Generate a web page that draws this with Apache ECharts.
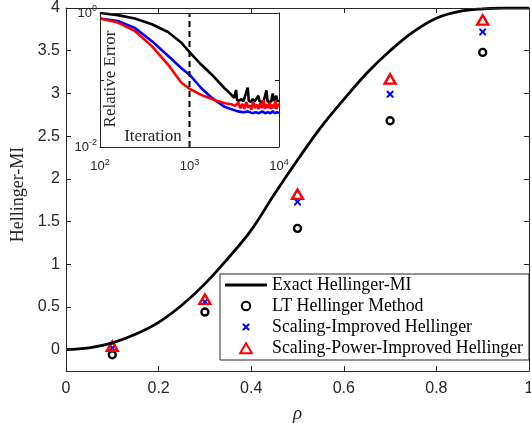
<!DOCTYPE html>
<html>
<head>
<meta charset="utf-8">
<script src="https://cdn.jsdelivr.net/npm/echarts@6/dist/echarts.min.js"></script>
<style>html,body{margin:0;padding:0;background:#fff;}#c{width:531px;height:423px;}</style>
</head>
<body>
<div id="c"></div>
<script>
// ---- Main plot data ----
const rho = [0,0.05,0.1,0.15,0.2,0.25,0.3,0.35,0.4,0.45,0.5,0.55,0.6,0.65,0.7,0.75,0.8,0.85,0.9,0.95,1];
const exactMI = [0,0.02,0.08,0.18,0.32,0.52,0.77,1.07,1.40,1.82,2.22,2.60,2.93,3.24,3.50,3.72,3.88,3.96,3.99,4.0,4.0];
const rhoSamples = [0.1,0.3,0.5,0.7,0.9];
const ltHellinger = [-0.06,0.44,1.42,2.68,3.48];
const scalingImproved = [0.02,0.56,1.73,2.99,3.72];
const scalingPowerImproved = [0.04,0.59,1.82,3.17,3.86];
const mainXTicks = [0,0.2,0.4,0.6,0.8,1];
const mainYTicks = [0,0.5,1,1.5,2,2.5,3,3.5,4];
const seriesNames = ['Exact Hellinger-MI','LT Hellinger Method','Scaling-Improved Hellinger','Scaling-Power-Improved Hellinger'];

// ---- Inset data (iteration vs relative error) ----
const iterBlack = [100,158,245,380,575,813,1000,1350,1780,2090,2450,2950,3150,3310,3400,3600,3800,4000,4200,4470,4600,4850,5100,5350,5600,5890,6050,6350,6700,7000,7240,7450,7800,8150,8510,8750,9100,9330,9600,10000];
const errBlack  = [1.0,0.93,0.83,0.68,0.52,0.36,0.26,0.17,0.12,0.095,0.076,0.060,0.054,0.071,0.050,0.049,0.052,0.048,0.051,0.077,0.049,0.047,0.052,0.048,0.050,0.058,0.048,0.051,0.047,0.050,0.070,0.048,0.051,0.047,0.063,0.049,0.052,0.058,0.048,0.050];
const iterBlue = [100,158,245,380,575,813,1000,1350,1780,2450,3470,4000,4500,5000,5500,6000,6500,7000,7500,8000,8500,9000,9500,10000];
const errBlue  = [0.83,0.76,0.60,0.38,0.23,0.15,0.12,0.076,0.054,0.040,0.034,0.033,0.034,0.032,0.033,0.032,0.034,0.032,0.033,0.032,0.034,0.032,0.033,0.032];
const iterRed = [100,158,245,380,575,813,1000,1350,1780,2090,2500,3000,3240,3500,3700,3900,4100,4300,4500,4700,4900,5150,5400,5650,5900,6150,6400,6700,6950,7250,7550,7850,8150,8450,8800,9100,9400,9700,10000];
const errRed  = [0.83,0.72,0.54,0.32,0.17,0.091,0.074,0.060,0.052,0.048,0.045,0.043,0.041,0.046,0.038,0.044,0.037,0.047,0.039,0.042,0.036,0.048,0.038,0.043,0.037,0.045,0.038,0.050,0.037,0.044,0.038,0.046,0.037,0.043,0.038,0.049,0.037,0.044,0.039];
const insetXTicks = [100,1000,10000];
const insetYTicks = [0.01,1];
const markedIteration = 1000;

const zip = (a,b) => a.map((v,i)=>[v,b[i]]);
const AX = '#262626';
const SANS = '"Liberation Sans", Arial, sans-serif';
const SERIF = '"Liberation Serif", "Times New Roman", serif';

const crossPath = 'path://M0 0 L2 0 L5 3 L8 0 L10 0 L10 2 L7 5 L10 8 L10 10 L8 10 L5 7 L2 10 L0 10 L0 8 L3 5 L0 2 Z';
// legend icons (with invisible bounding markers M0 0 / M14 14)
const iconLine = 'path://M0 0 M42 14 M0 5.6 L42 5.6 L42 8.4 L0 8.4 Z';
const iconCircle = 'path://M0 0 M14 14 M2.8 7 A4.2 4.2 0 1 0 11.2 7 A4.2 4.2 0 1 0 2.8 7 Z';
const iconCross = 'path://M0 0 M14 14 M3.5 3.5 L4.9 3.5 L7 5.6 L9.1 3.5 L10.5 3.5 L10.5 4.9 L8.4 7 L10.5 9.1 L10.5 10.5 L9.1 10.5 L7 8.4 L4.9 10.5 L3.5 10.5 L3.5 9.1 L5.6 7 L3.5 4.9 Z';
const iconTri = 'path://M0 0 M14 14 M1.2 12.2 L12.8 12.2 L7 2.2 Z';

const supLabel = v => '{b|10}{s|' + Math.round(Math.log10(v)) + '}';
const near = (v, arr) => arr.some(t => Math.abs(Math.log10(v) - Math.log10(t)) < 1e-6);
const insetRich = {
  b: {fontFamily: SANS, fontSize: 13, color: AX},
  s: {fontFamily: SANS, fontSize: 9, color: AX, padding: [0,0,8,0]}
};

function mainAxis(extra) {
  return Object.assign({
    type: 'value', gridIndex: 0,
    axisLine: {show: true, onZero: false, lineStyle: {color: AX, width: 1}},
    splitLine: {show: false},
    z: 10
  }, extra);
}
function insetAxis(extra) {
  return Object.assign({
    type: 'log', logBase: 10, gridIndex: 1,
    axisLine: {show: true, onZero: false, lineStyle: {color: AX, width: 1}},
    splitLine: {show: false},
    z: 10
  }, extra);
}

const chart = echarts.init(document.getElementById('c'), null, {renderer: 'canvas'});
chart.setOption({
  animation: false,
  backgroundColor: '#fff',
  grid: [
    {left: 66, right: 2, top: 8, bottom: 52, containLabel: false, outerBoundsMode: 'none'},
    {left: 100, right: 252, top: 13, bottom: 276, show: true, backgroundColor: '#fff', borderWidth: 0, containLabel: false, outerBoundsMode: 'none'}
  ],
  xAxis: [
    mainAxis({position: 'bottom', min: 0, max: 1,
      axisTick: {inside: true, length: 5, lineStyle: {color: AX}, customValues: mainXTicks},
      axisLabel: {customValues: mainXTicks, fontFamily: SANS, fontSize: 16, color: AX, margin: 10},
      name: 'ρ', nameLocation: 'middle', nameGap: 33,
      nameTextStyle: {fontFamily: SERIF, fontStyle: 'italic', fontSize: 19, color: AX}}),
    mainAxis({position: 'top', min: 0, max: 1,
      axisTick: {inside: true, length: 5, lineStyle: {color: AX}, customValues: mainXTicks},
      axisLabel: {show: false}}),
    insetAxis({position: 'bottom', min: 100, max: 10000,
      axisTick: {inside: true, length: 4, lineStyle: {color: AX}},
      axisLabel: {formatter: v => near(v, insetXTicks) ? supLabel(v) : '', rich: insetRich, margin: 11}}),
    insetAxis({position: 'top', min: 100, max: 10000,
      axisTick: {inside: true, length: 4, lineStyle: {color: AX}},
      axisLabel: {show: false}})
  ],
  yAxis: [
    mainAxis({position: 'left', min: -0.25, max: 4,
      axisTick: {inside: true, length: 5, lineStyle: {color: AX}, customValues: mainYTicks},
      axisLabel: {customValues: mainYTicks, fontFamily: SANS, fontSize: 16, color: AX, margin: 6},
      name: 'Hellinger-MI', nameLocation: 'middle', nameGap: 37, nameRotate: 90,
      nameTextStyle: {fontFamily: SERIF, fontSize: 18, color: AX, padding: [0, 10, 0, 0]}}),
    mainAxis({position: 'right', min: -0.25, max: 4,
      axisTick: {inside: true, length: 5, lineStyle: {color: AX}, customValues: mainYTicks},
      axisLabel: {show: false}}),
    insetAxis({position: 'left', min: 0.01, max: 1,
      axisTick: {inside: true, length: 4, lineStyle: {color: AX}},
      axisLabel: {formatter: v => near(v, insetYTicks) ? supLabel(v) : '', rich: insetRich, margin: 3}}),
    insetAxis({position: 'right', min: 0.01, max: 1,
      axisTick: {inside: true, length: 4, lineStyle: {color: AX}},
      axisLabel: {show: false}})
  ],
  legend: {
    orient: 'vertical', left: 220, top: 274,
    padding: [2, 6, 3, 5], itemWidth: 42, itemHeight: 14, itemGap: 3,
    borderColor: AX, borderWidth: 1, backgroundColor: '#fff', borderRadius: 0,
    textStyle: {fontFamily: SERIF, fontSize: 17.8, color: '#000'},
    data: [
      {name: seriesNames[0], icon: iconLine},
      {name: seriesNames[1], icon: iconCircle},
      {name: seriesNames[2], icon: iconCross},
      {name: seriesNames[3], icon: iconTri}
    ],
    z: 20
  },
  graphic: [
    {type: 'text', x: 153, y: 137, z: 30,
     style: {text: 'Iteration', font: '17px ' + SERIF, fill: AX, align: 'center', verticalAlign: 'middle'}},
    {type: 'text', x: 111, y: 79, rotation: Math.PI / 2, z: 30,
     style: {text: 'Relative Error', font: '17px ' + SERIF, fill: AX, align: 'center', verticalAlign: 'middle'}}
  ],
  series: [
    {name: seriesNames[0], type: 'line', xAxisIndex: 0, yAxisIndex: 0,
     data: zip(rho, exactMI), smooth: 0.4, symbol: 'none',
     lineStyle: {color: '#000', width: 2.8}, itemStyle: {color: '#000'}},
    {name: seriesNames[1], type: 'scatter', xAxisIndex: 0, yAxisIndex: 0,
     data: zip(rhoSamples, ltHellinger), symbol: 'circle', symbolSize: 7,
     itemStyle: {color: 'rgba(0,0,0,0)', borderColor: '#000', borderWidth: 2.4, opacity: 1}},
    {name: seriesNames[2], type: 'scatter', xAxisIndex: 0, yAxisIndex: 0,
     data: zip(rhoSamples, scalingImproved), symbol: crossPath, symbolSize: 7,
     itemStyle: {color: '#0000ff', opacity: 1}},
    {name: seriesNames[3], type: 'scatter', xAxisIndex: 0, yAxisIndex: 0,
     data: zip(rhoSamples, scalingPowerImproved), symbol: 'triangle', symbolSize: [11, 9.5],
     itemStyle: {color: 'rgba(0,0,0,0)', borderColor: '#ff0000', borderWidth: 2.4, opacity: 1}},
    {name: 'inset-black', type: 'line', xAxisIndex: 2, yAxisIndex: 2,
     data: zip(iterBlack, errBlack), symbol: 'none', lineStyle: {color: '#000', width: 2.6}},
    {name: 'inset-blue', type: 'line', xAxisIndex: 2, yAxisIndex: 2,
     data: zip(iterBlue, errBlue), symbol: 'none', lineStyle: {color: '#0000ff', width: 2.6}},
    {name: 'inset-red', type: 'line', xAxisIndex: 2, yAxisIndex: 2,
     data: zip(iterRed, errRed), symbol: 'none', lineStyle: {color: '#ff0000', width: 2.6}},
    {name: 'inset-marker', type: 'line', xAxisIndex: 2, yAxisIndex: 2,
     data: [[markedIteration, insetYTicks[0]], [markedIteration, insetYTicks[1]]],
     symbol: 'none', lineStyle: {color: '#000', width: 2, type: [6, 4]}, z: 4}
  ]
});
</script>
</body>
</html>
